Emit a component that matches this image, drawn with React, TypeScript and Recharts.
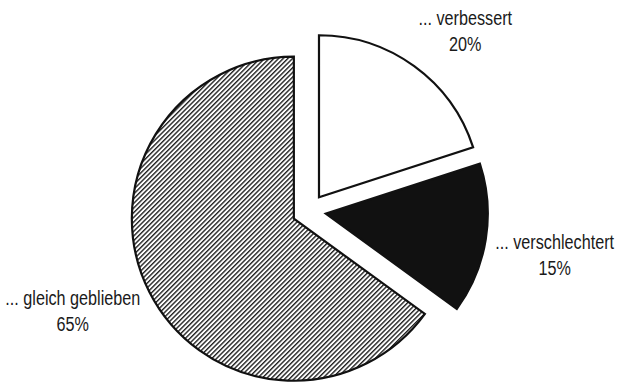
import { PieChart, Pie, Cell } from 'recharts';

const categories = ['... verbessert', '... verschlechtert', '... gleich geblieben'];
const shares = [20, 15, 65];
const percentLabels = ['20%', '15%', '65%'];

const data = categories.map((name, i) => ({ name, value: shares[i] }));

const WIDTH = 617;
const HEIGHT = 382;
const CX = 309;
const CY = 211;
const RADIUS = 162;
const EXPLODE = 17;
const RADIAN = Math.PI / 180;
const FILLS = ['#ffffff', '#111111', 'url(#hatch)'];
// label block centre relative to a point just outside the rim
const LABEL_NUDGE = [
  { dx: 44, dy: -25 },
  { dx: 57, dy: 14 },
  { dx: -66, dy: 13 },
];
const FONT = "'Liberation Sans', Arial, sans-serif";

const total = shares.reduce((a, b) => a + b, 0);
const midAngles = shares.map((v, i) => {
  const before = shares.slice(0, i).reduce((a, b) => a + b, 0);
  return 90 - ((before + v / 2) / total) * 360;
});

function makeLabel(k: number) {
  return (props: any) => {
    const { cx, cy, midAngle, outerRadius, index } = props;
    if (index !== k) return null;
    const r = outerRadius + 12;
    const x = cx + r * Math.cos(-midAngle * RADIAN) + LABEL_NUDGE[k].dx;
    const y = cy + r * Math.sin(-midAngle * RADIAN) + LABEL_NUDGE[k].dy;
    // narrow type, like the original's condensed face
    return (
      <text
        transform={`translate(${x},${y}) scale(0.81,1)`}
        textAnchor="middle"
        fontFamily={FONT}
        fontSize={20}
        fill="#1a1a1a"
      >
        <tspan x={0} y={-6}>{categories[k]}</tspan>
        <tspan x={0} y={20}>{percentLabels[k]}</tspan>
      </text>
    );
  };
}

export default function App() {
  return (
    <div style={{ position: 'absolute', left: 0, top: 0, background: '#fff' }}>
      <PieChart width={WIDTH} height={HEIGHT} margin={{ top: 0, right: 0, bottom: 0, left: 0 }}>
        <defs>
          <pattern
            id="hatch"
            patternUnits="userSpaceOnUse"
            width={3.3}
            height={3.3}
            patternTransform="rotate(45)"
          >
            <rect width={3.3} height={3.3} fill="#fff" />
            <line x1={0.7} y1={0} x2={0.7} y2={3.3} stroke="#1a1a1a" strokeWidth={1.35} />
          </pattern>
        </defs>
        {data.map((_, k) => {
          const mid = midAngles[k];
          const cx = CX + EXPLODE * Math.cos(mid * RADIAN);
          const cy = CY - EXPLODE * Math.sin(mid * RADIAN);
          return (
            <Pie
              key={k}
              data={data}
              dataKey="value"
              nameKey="name"
              cx={cx}
              cy={cy}
              outerRadius={RADIUS}
              startAngle={90}
              endAngle={-270}
              isAnimationActive={false}
              label={makeLabel(k)}
              labelLine={false}
            >
              {data.map((d, i) => (
                <Cell
                  key={d.name}
                  fill={i === k ? FILLS[i] : 'none'}
                  stroke={i === k ? '#111' : 'none'}
                  strokeWidth={2.2}
                  strokeLinejoin="miter"
                />
              ))}
            </Pie>
          );
        })}
      </PieChart>
    </div>
  );
}
